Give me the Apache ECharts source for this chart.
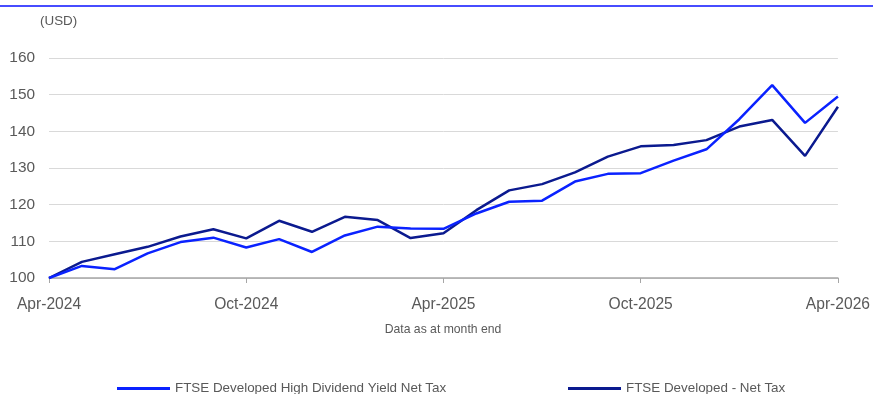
<!DOCTYPE html>
<html>
<head>
<meta charset="utf-8">
<script src="https://cdn.jsdelivr.net/npm/echarts@6/dist/echarts.min.js"></script>
<style>
  html, body { margin: 0; padding: 0; background: #fff; }
  #chart { width: 873px; height: 394px; }
</style>
</head>
<body>
<div id="chart"></div>
<script>
// Monthly categories, Apr-2024 to Apr-2026
const months = [
  'Apr-2024','May-2024','Jun-2024','Jul-2024','Aug-2024','Sep-2024','Oct-2024',
  'Nov-2024','Dec-2024','Jan-2025','Feb-2025','Mar-2025','Apr-2025',
  'May-2025','Jun-2025','Jul-2025','Aug-2025','Sep-2025','Oct-2025',
  'Nov-2025','Dec-2025','Jan-2026','Feb-2026','Mar-2026','Apr-2026'
];

// Rebased to 100 (USD)
const highDividend = [
  100, 103.3, 102.4, 106.7, 109.8, 111.0, 108.3, 110.6, 107.1, 111.6, 114.0, 113.5, 113.4,
  117.6, 120.8, 121.1, 126.3, 128.4, 128.6, 132.0, 135.1, 143.3, 152.6, 142.3, 149.5
];
const developed = [
  100, 104.4, 106.5, 108.5, 111.3, 113.3, 110.8, 115.6, 112.6, 116.7, 115.8, 110.9, 112.2,
  118.5, 123.9, 125.6, 128.8, 133.1, 135.9, 136.3, 137.6, 141.3, 143.1, 133.3, 146.7
];

const seriesNames = ['FTSE Developed High Dividend Yield Net Tax', 'FTSE Developed - Net Tax'];
const labelEvery = 6;

const fontFamily = '"Liberation Sans", Arial, sans-serif';
const textColor = '#595959';

const chart = echarts.init(document.getElementById('chart'), null, { renderer: 'canvas' });

chart.setOption({
  animation: false,
  backgroundColor: '#fff',
  textStyle: { fontFamily: fontFamily },
  grid: { left: 49, right: 35, top: 58, bottom: 116, containLabel: false },
  legend: [
    {
      data: [seriesNames[0]],
      left: 112, top: 377,
      icon: 'rect', itemWidth: 53, itemHeight: 3, itemGap: 6,
      textStyle: { fontSize: 13.4, color: textColor, fontFamily: fontFamily, padding: [0, 0, 0, 0] }
    },
    {
      data: [seriesNames[1]],
      left: 563, top: 377,
      icon: 'rect', itemWidth: 53, itemHeight: 3,
      textStyle: { fontSize: 13.4, color: textColor, fontFamily: fontFamily }
    }
  ],
  xAxis: {
    type: 'category',
    data: months,
    boundaryGap: false,
    axisLine: { lineStyle: { color: '#a6a6a6', width: 1.5 } },
    axisTick: {
      show: true, length: 5,
      interval: (i) => i % labelEvery === 0,
      lineStyle: { color: '#a6a6a6' }
    },
    axisLabel: {
      interval: (i) => i % labelEvery === 0,
      fontSize: 15.6, color: textColor, margin: 19,
      fontFamily: fontFamily
    },
    splitLine: { show: false }
  },
  yAxis: {
    type: 'value',
    min: 100, max: 160, interval: 10,
    axisLine: { show: false },
    axisTick: { show: false },
    axisLabel: { fontSize: 15.4, color: textColor, margin: 14, fontFamily: fontFamily },
    splitLine: { lineStyle: { color: '#d9d9d9', width: 1 } }
  },
  series: [
    {
      name: seriesNames[0],
      type: 'line',
      data: highDividend,
      symbol: 'none',
      color: '#0a22ff',
      lineStyle: { width: 2.5, color: '#0a22ff' },
      z: 3
    },
    {
      name: seriesNames[1],
      type: 'line',
      data: developed,
      symbol: 'none',
      color: '#0b1a8f',
      lineStyle: { width: 2.5, color: '#0b1a8f' },
      z: 2
    }
  ],
  graphic: [
    {
      type: 'line',
      shape: { x1: 0, y1: 6, x2: 873, y2: 6 },
      style: { stroke: '#0a10ff', lineWidth: 1.5 }
    },
    {
      type: 'text',
      x: 40, y: 21,
      style: {
        text: '(USD)', fontSize: 13.4, fill: textColor, fontFamily: fontFamily,
        align: 'left', verticalAlign: 'middle'
      }
    },
    {
      type: 'text',
      x: 443, y: 330,
      style: {
        text: 'Data as at month end', fontSize: 12.2, fill: textColor,
        fontFamily: fontFamily, align: 'center', verticalAlign: 'middle'
      }
    }
  ]
});
</script>
</body>
</html>
